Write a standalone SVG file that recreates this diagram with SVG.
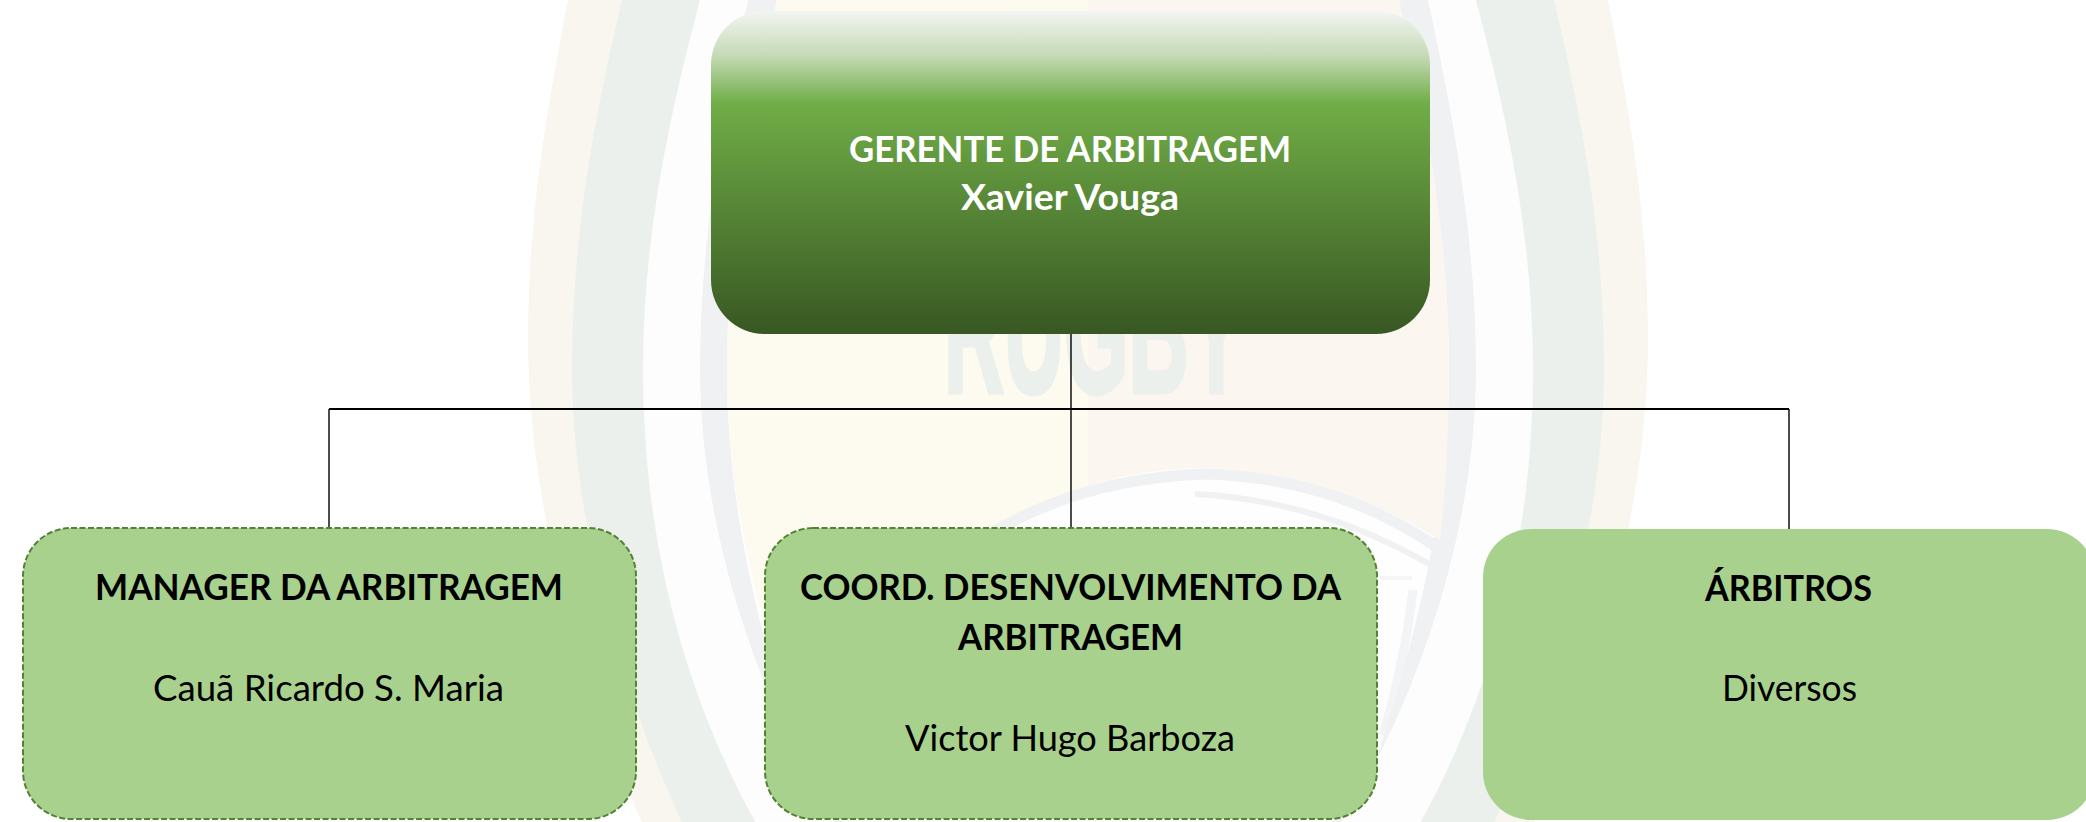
<svg xmlns="http://www.w3.org/2000/svg" width="2086" height="822" viewBox="0 0 2086 822">
<style>
text{font-family:"Lato","Liberation Sans",sans-serif;font-size:36px}
.h{font-weight:700;fill:#000}
.n{font-weight:400;fill:#000}
.w{font-weight:700;fill:#fff}
.box{fill:#A9D18E}
.dash{stroke:#548235;stroke-width:2;stroke-dasharray:6 2.5}
.conn{fill:none;stroke:#000;stroke-width:1.4}
.conn-h{fill:none;stroke:#000;stroke-width:2}
.arc{fill:none;stroke:#EFF1F2}
</style>
<defs>
<linearGradient id="g" x1="0" y1="0" x2="0" y2="1">
<stop offset="0" stop-color="#F3F5F3"/>
<stop offset="0.14" stop-color="#C4DAB5"/>
<stop offset="0.285" stop-color="#70AD47"/>
<stop offset="1" stop-color="#385723"/>
</linearGradient>
</defs>
<rect width="2086" height="822" fill="#fff"/>
<g id="watermark">
<path fill="#F8F6EF" d="M568,0 C545,120 528,220 528,340 C528,520 590,720 660,860 L1516,860 C1586,720 1648,520 1648,340 C1648,220 1631,120 1608,0 Z"/>
<path fill="#ECF0EC" d="M622,0 C596,110 572,230 572,370 C572,520 620,700 700,860 L1476,860 C1556,700 1604,520 1604,370 C1604,230 1580,110 1554,0 Z"/>
<path fill="#FDFDFD" d="M700,0 C668,120 643,240 643,370 C643,530 680,690 760,830 L760,860 L1416,860 L1416,830 C1496,690 1533,530 1533,370 C1533,240 1508,120 1476,0 Z"/>
<path fill="#EFF1F2" d="M748,0 C722,120 700,240 700,370 C700,530 760,720 860,860 L1316,860 C1416,720 1476,530 1476,370 C1476,240 1454,120 1428,0 Z"/>
<path fill="#FEFEFE" d="M777,0 C750,120 727,240 727,370 C727,500 755,620 800,760 L870,860 L1306,860 L1376,760 C1421,620 1449,500 1449,370 C1449,240 1426,120 1399,0 Z"/>
<path fill="#FDFBEF" d="M777,0 C750,120 727,240 727,370 C727,470 745,560 775,660 L996,526 Q1035,505 1088,486 L1088,0 Z"/>
<path fill="#FBF6EF" d="M1088,0 L1088,486 Q1145,468 1206,468 Q1330,472 1440,540 C1447,480 1449,420 1449,370 C1449,240 1426,120 1399,0 Z"/>
<path class="arc" stroke-width="11" d="M985,537 Q1080,478 1206,474 Q1340,478 1444,552"/>
<path class="arc" stroke-width="6" d="M1195,494 Q1320,500 1436,568"/>
<path class="arc" stroke-width="4" opacity="0.7" d="M1380,578 H1412"/>
<path class="arc" stroke-width="9" opacity="0.8" d="M1413,590 Q1405,660 1383,735"/>
<text x="944" y="392" textLength="300" lengthAdjust="spacingAndGlyphs" stroke="#EBF0EC" stroke-width="5" style="font-family:'Liberation Sans',sans-serif;font-weight:700;font-size:180px;fill:#EBF0EC">RUGBY</text>
</g>
<g id="connectors">
<path class="conn-h" d="M329,409 H1789"/>
<path class="conn" d="M329,409 V528 M1071,334 V528 M1789,409 V529"/>
</g>
<g id="node-gerente">
<rect x="711" y="11" width="719" height="323" rx="54" ry="54" fill="url(#g)"/>
<text class="w" x="849" y="162" textLength="442" lengthAdjust="spacingAndGlyphs">GERENTE DE ARBITRAGEM</text>
<text class="w" x="961" y="210" textLength="218" lengthAdjust="spacingAndGlyphs">Xavier Vouga</text>
</g>
<g id="node-manager">
<rect class="box dash" x="23" y="528" width="613" height="291" rx="48" ry="48"/>
<text class="h" x="95" y="600" textLength="468" lengthAdjust="spacingAndGlyphs">MANAGER DA ARBITRAGEM</text>
<text class="n" x="153" y="701" textLength="351" lengthAdjust="spacingAndGlyphs">Cauã Ricardo S. Maria</text>
</g>
<g id="node-coord">
<rect class="box dash" x="765" y="528" width="612" height="291" rx="48" ry="48"/>
<text class="h" x="800" y="600" textLength="541" lengthAdjust="spacingAndGlyphs">COORD. DESENVOLVIMENTO DA</text>
<text class="h" x="958" y="650" textLength="225" lengthAdjust="spacingAndGlyphs">ARBITRAGEM</text>
<text class="n" x="905" y="751" textLength="330" lengthAdjust="spacingAndGlyphs">Victor Hugo Barboza</text>
</g>
<g id="node-arbitros">
<rect class="box" x="1483" y="529" width="612" height="291" rx="48" ry="48"/>
<text class="h" x="1705" y="601" textLength="167" lengthAdjust="spacingAndGlyphs">ÁRBITROS</text>
<text class="n" x="1722" y="701" textLength="135" lengthAdjust="spacingAndGlyphs">Diversos</text>
</g>
</svg>
